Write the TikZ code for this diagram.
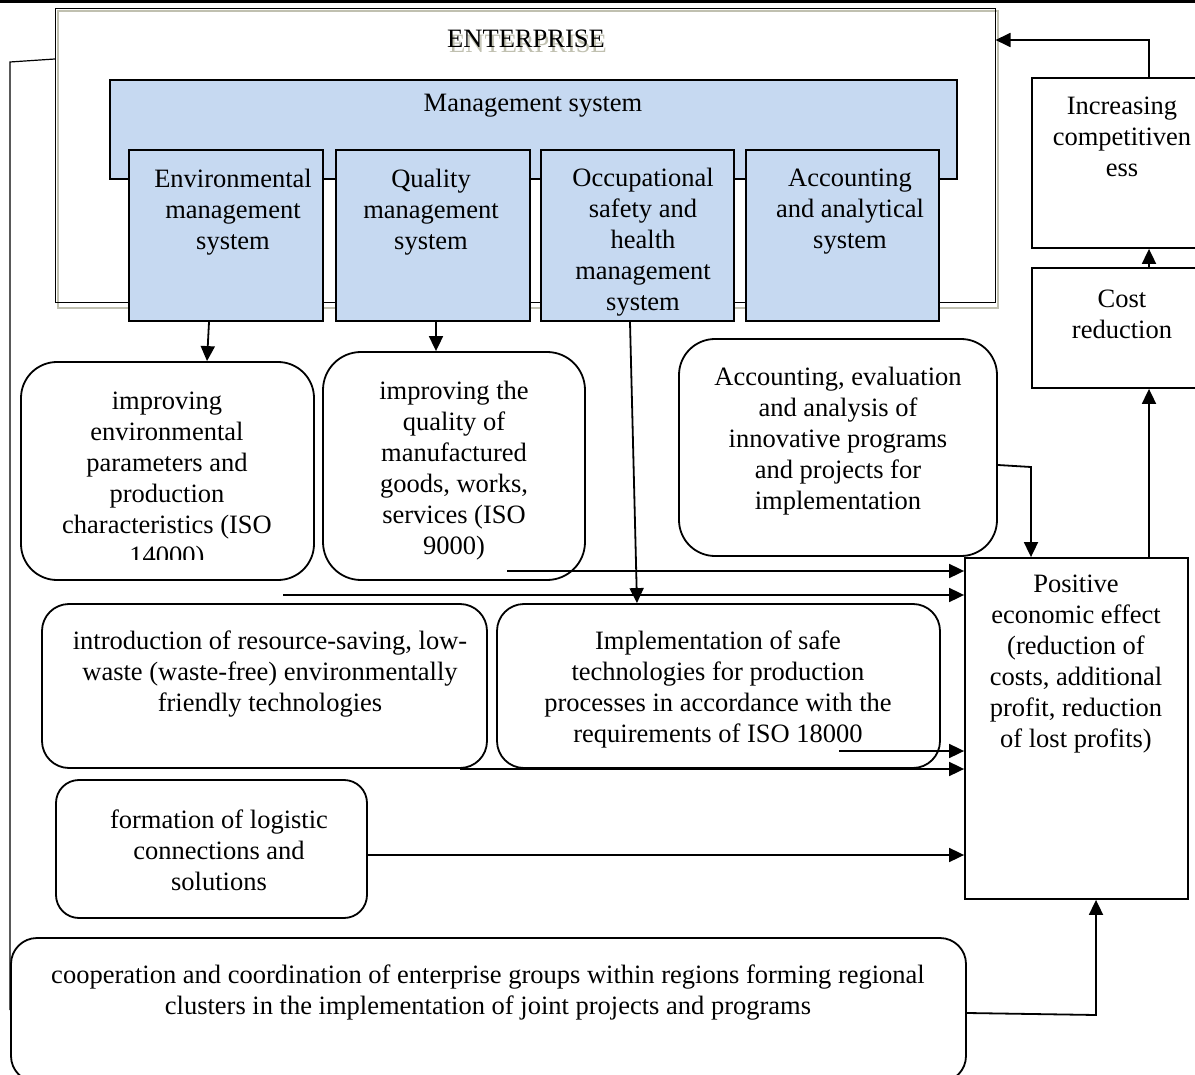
\documentclass[tikz,border=0pt]{standalone}
\usepackage{fontspec}
\setmainfont{Liberation Serif}
\usetikzlibrary{arrows.meta,fit}
\definecolor{mgblue}{RGB}{198,217,241}
\definecolor{shadowgray}{RGB}{192,192,176}
\newcommand{\txtsize}{\fontsize{13.25pt}{15.5pt}\selectfont}
\begin{document}
\begin{tikzpicture}[x=0.5pt,y=-0.5pt,
  box/.style={draw, line width=0.9pt, inner sep=0pt},
  bluebox/.style={box, fill=mgblue, line width=1.1pt},
  thinbox/.style={draw, line width=0.5pt, inner sep=0pt},
  txt/.style={align=center, inner sep=0pt, font=\txtsize},
  arr/.style={-{Triangle[length=7.5pt,width=7pt]}, line width=0.9pt},
  plain/.style={line width=0.6pt}]
\useasboundingbox (0,0) rectangle (1195,1075);
% top rule
\draw[line width=1.4pt] (0,1.5) -- (1195,1.5);
% enterprise frame
\draw[shadowgray, line width=0.8pt] (58,11) rectangle (998,308);
\node[thinbox, fit={(55.5,8.5) (995,303)}] (ent) {};
\node[txt, text=shadowgray] (entsh) at (528,44) {ENTERPRISE};
\node[txt] (entt) at (526,39) {ENTERPRISE};
% management system
\node[bluebox, fit={(110,80) (957,179)}] (mgmt) {};
\node[txt] (mgmtt) at (533,106) {Management system};
\node[bluebox, fit={(129,150) (323,321)}] (envs) {};
\node[bluebox, fit={(336,150) (530,321)}] (qs) {};
\node[bluebox, fit={(541,150) (734,321)}] (occ) {};
\node[bluebox, fit={(746,150) (939,321)}] (accs) {};
\node[txt] (envst) at (233,212) {Environmental\\management\\system};
\node[txt] (qst) at (431,212) {Quality\\management\\system};
\node[txt] (occt) at (643,242) {Occupational\\safety and\\health\\management\\system};
\node[txt] (accst) at (850,211.5) {Accounting\\and analytical\\system};
% right column
\node[box, fit={(1032,78) (1200,248)}] (inc) {};
\node[txt] (inct) at (1122,137) {Increasing\\competitiven\\ess};
\node[box, fit={(1032,268) (1200,388)}] (cost) {};
\node[txt] (costt) at (1122,314) {Cost\\reduction};
\node[box, fit={(965,558) (1188,899)}] (pos) {};
\node[txt] (post) at (1076,664) {Positive\\economic effect\\(reduction of\\costs, additional\\profit, reduction\\of lost profits)};
% rounded result boxes
\node[box, rounded corners=18pt, fit={(21,362) (314,580)}] (envr) {};
\begin{scope}
\clip (0,0) rectangle (1195,559);
\node[txt] (envrt) at (167,481.5) {improving\\environmental\\parameters and\\production\\characteristics (ISO\\14000)};
\end{scope}
\node[box, rounded corners=19pt, fit={(323,352) (585,580)}] (qr) {};
\node[txt] (qrt) at (454,471) {improving the\\quality of\\manufactured\\goods, works,\\services (ISO\\9000)};
\node[box, rounded corners=18pt, fit={(679,339) (997,556)}] (acce) {};
\node[txt] (accet) at (838,441.5) {Accounting, evaluation\\and analysis of\\innovative programs\\and projects for\\implementation};
\node[box, rounded corners=13.5pt, fit={(42,604) (487,768)}] (intro) {};
\node[txt] (introt) at (270,674.5) {introduction of resource-saving, low-\\waste (waste-free) environmentally\\friendly technologies};
\node[box, rounded corners=13.5pt, fit={(497,604) (940,768)}] (impl) {};
\node[txt] (implt) at (718,689.5) {Implementation of safe\\technologies for production\\processes in accordance with the\\requirements of ISO 18000};
\node[box, rounded corners=11.5pt, fit={(56,780) (367,918)}] (logi) {};
\node[txt] (logit) at (219,850) {formation of logistic\\connections and\\solutions};
\node[box, rounded corners=13pt, fit={(11,938) (966,1082)}] (coop) {};
\node[txt] (coopt) at (488,992.5) {cooperation and coordination of enterprise groups within regions forming regional\\clusters in the implementation of joint projects and programs};
% free ends
\coordinate (h1) at (507,571);
\coordinate (h2) at (283,595);
\coordinate (h3) at (839,751);
\coordinate (h4) at (460,769);
% connectors
\draw[arr] (209,0 |- envs.south) -- (207,0 |- envr.north);
\draw[arr] (436,0 |- qs.south) -- (436,0 |- qr.north);
\draw[arr] (630,0 |- occ.south) -- (637,0 |- impl.north);
\draw[arr] (h1) -- (h1 -| pos.west);
\draw[arr] (h2) -- (h2 -| pos.west);
\draw[arr] (h3) -- (h3 -| pos.west);
\draw[arr] (h4) -- (h4 -| pos.west);
\draw[arr] (logi.east |- 0,855) -- (pos.west |- 0,855);
\draw[arr] (acce.east |- 0,465) -- (1031,467) -- (1031,0 |- pos.north);
\draw[arr] (coop.east |- 0,1013) -- (1096,1015) -- (1096,0 |- pos.south);
\draw[arr] (1149,0 |- pos.north) -- (1149,0 |- cost.south);
\draw[arr] (1149,0 |- cost.north) -- (1149,0 |- inc.south);
\draw[arr] (1149,0 |- inc.north) -- (1149,40) -- (ent.east |- 0,40);
\draw[plain] (ent.west |- 0,59) -- (10,62) -- (10,0 |- coop.west);
\end{tikzpicture}
\end{document}
